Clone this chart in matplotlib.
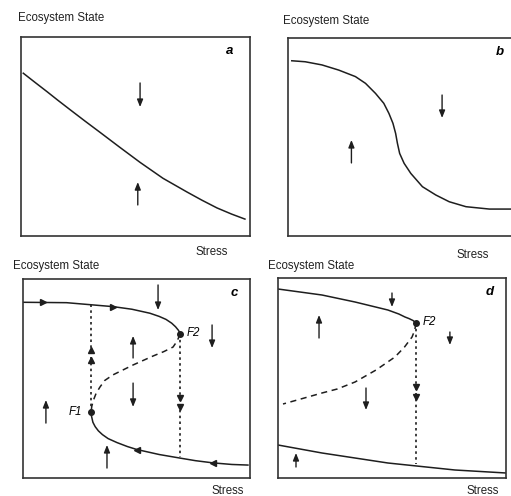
import matplotlib
matplotlib.use('Agg')
import matplotlib.pyplot as plt

plt.rcParams['font.family'] = ['Liberation Sans', 'DejaVu Sans']

# ---- panel a: single smooth equilibrium
a_x = [0.01, 0.06, 0.114, 0.16, 0.214, 0.28, 0.345, 0.43, 0.52, 0.62, 0.725, 0.79, 0.856, 0.92, 0.978]
a_y = [0.818, 0.773, 0.725, 0.683, 0.635, 0.577, 0.521, 0.447, 0.37, 0.29, 0.221, 0.18, 0.141, 0.11, 0.085]
a_arrows = [(0.52, 0.769, 0.648), (0.51, 0.156, 0.271)]   # x, from y, to y

# ---- panel b: strongly nonlinear single equilibrium
b_x = [0.017, 0.077, 0.152, 0.227, 0.302, 0.347, 0.392, 0.429, 0.452, 0.470, 0.482,
       0.490, 0.500, 0.520, 0.550, 0.602, 0.662, 0.722, 0.797, 0.902, 1.0]
b_y = [0.885, 0.880, 0.864, 0.838, 0.805, 0.771, 0.720, 0.670, 0.619, 0.569, 0.518,
       0.468, 0.417, 0.367, 0.316, 0.249, 0.207, 0.173, 0.148, 0.136, 0.136]
b_arrows = [(0.69, 0.712, 0.596), (0.284, 0.369, 0.485)]

# ---- panel c: fold bifurcation with hysteresis
c_up_x = [0.0, 0.192, 0.398, 0.48, 0.559, 0.60, 0.63, 0.655, 0.672, 0.685, 0.692]
c_up_y = [0.883, 0.881, 0.861, 0.848, 0.828, 0.812, 0.797, 0.778, 0.76, 0.742, 0.727]
c_mid_x = [0.692, 0.68, 0.661, 0.62, 0.573, 0.485, 0.396, 0.36, 0.339, 0.322, 0.31, 0.303, 0.30]
c_mid_y = [0.724, 0.69, 0.658, 0.635, 0.613, 0.568, 0.518, 0.49, 0.457, 0.425, 0.39, 0.36, 0.332]
c_low_x = [0.30, 0.302, 0.308, 0.318, 0.332, 0.35, 0.375, 0.414, 0.46, 0.502, 0.60,
           0.692, 0.76, 0.837, 0.92, 0.991]
c_low_y = [0.332, 0.31, 0.28, 0.258, 0.237, 0.218, 0.198, 0.178, 0.158, 0.143, 0.118,
           0.10, 0.087, 0.076, 0.068, 0.065]
c_F1 = (0.30, 0.332)
c_F2 = (0.692, 0.724)
c_jump_up = (0.30, 0.332, 0.87)
c_jump_down = (0.692, 0.724, 0.105)
c_heads_right = ([0.088, 0.396], [0.883, 0.861])
c_heads_left = ([0.502, 0.837], [0.143, 0.076])
c_heads_up = ([0.30, 0.30], [0.643, 0.593])
c_heads_down = ([0.692, 0.692], [0.40, 0.357])
c_arrows = [(0.595, 0.97, 0.844), (0.833, 0.769, 0.653), (0.485, 0.603, 0.714),
            (0.485, 0.477, 0.357), (0.101, 0.276, 0.392), (0.37, 0.05, 0.166)]

# ---- panel d: irreversible shift
d_up_x = [0.0, 0.193, 0.338, 0.482, 0.53, 0.557, 0.575, 0.593, 0.605]
d_up_y = [0.945, 0.915, 0.88, 0.84, 0.82, 0.805, 0.797, 0.787, 0.775]
d_mid_x = [0.605, 0.60, 0.588, 0.555, 0.513, 0.43, 0.338, 0.26, 0.193, 0.10, 0.022]
d_mid_y = [0.775, 0.74, 0.705, 0.655, 0.605, 0.54, 0.48, 0.445, 0.425, 0.395, 0.37]
d_low_x = [0.0, 0.193, 0.482, 0.776, 1.0]
d_low_y = [0.165, 0.125, 0.075, 0.04, 0.025]
d_F2 = (0.605, 0.775)
d_jump_down = (0.605, 0.775, 0.068)
d_heads_down = ([0.605, 0.605], [0.455, 0.405])
d_arrows = [(0.5, 0.925, 0.855), (0.18, 0.70, 0.815), (0.754, 0.73, 0.665),
            (0.386, 0.45, 0.34), (0.079, 0.055, 0.125)]

ink = '#1e1e1e'
fs = 8.3
lw = 1.1

fig = plt.figure(figsize=(5.11, 4.96), dpi=100)
ax_a = fig.add_axes([0.0411, 0.5242, 0.4481, 0.4012])
ax_b = fig.add_axes([0.5636, 0.5242, 0.4370, 0.3992])
ax_c = fig.add_axes([0.045, 0.0363, 0.4442, 0.4012])
ax_d = fig.add_axes([0.544, 0.0363, 0.4462, 0.4032])

for ax in [ax_a, ax_b, ax_c, ax_d]:
    ax.set_xlim(0, 1)
    ax.set_ylim(0, 1)
    ax.set_xticks([])
    ax.set_yticks([])
    for s in ax.spines.values():
        s.set_color('#333333')
        s.set_linewidth(1.2)
ax_b.spines['right'].set_visible(False)


def arrows(ax, lst):
    for x, y0, y1 in lst:
        ax.annotate('', xy=(x, y1), xytext=(x, y0),
                    arrowprops=dict(arrowstyle='-|>,head_length=0.55,head_width=0.22',
                                    color=ink, lw=1.0, shrinkA=0, shrinkB=0,
                                    mutation_scale=8))


ax_a.plot(a_x, a_y, color=ink, lw=lw)
arrows(ax_a, a_arrows)

ax_b.plot(b_x, b_y, color=ink, lw=lw)
arrows(ax_b, b_arrows)

ax_c.plot(c_up_x, c_up_y, color=ink, lw=lw)
ax_c.plot(c_low_x, c_low_y, color=ink, lw=lw)
ax_c.plot(c_mid_x, c_mid_y, color=ink, lw=lw, ls=(0, (4, 3)))
ax_c.plot([c_jump_up[0]] * 2, c_jump_up[1:], color=ink, lw=1.2, ls=(0, (1.5, 2)))
ax_c.plot([c_jump_down[0]] * 2, c_jump_down[1:], color=ink, lw=1.2, ls=(0, (1.5, 2)))
ax_c.plot(*c_heads_right, ls='none', marker='>', ms=4, color=ink)
ax_c.plot(*c_heads_left, ls='none', marker='<', ms=4, color=ink)
ax_c.plot(*c_heads_up, ls='none', marker='^', ms=4, color=ink)
ax_c.plot(*c_heads_down, ls='none', marker='v', ms=4, color=ink)
ax_c.plot(*c_F1, marker='o', ms=4, color=ink)
ax_c.plot(*c_F2, marker='o', ms=4, color=ink)
ax_c.text(c_F1[0] - 0.04, c_F1[1], 'F1', style='italic', fontsize=fs, ha='right', va='center')
ax_c.text(c_F2[0] + 0.03, c_F2[1] + 0.005, 'F2', style='italic', fontsize=fs, ha='left', va='center')
arrows(ax_c, c_arrows)

ax_d.plot(d_up_x, d_up_y, color=ink, lw=lw)
ax_d.plot(d_low_x, d_low_y, color=ink, lw=lw)
ax_d.plot(d_mid_x, d_mid_y, color=ink, lw=lw, ls=(0, (4, 3)))
ax_d.plot([d_jump_down[0]] * 2, d_jump_down[1:], color=ink, lw=1.2, ls=(0, (1.5, 2)))
ax_d.plot(*d_heads_down, ls='none', marker='v', ms=4, color=ink)
ax_d.plot(*d_F2, marker='o', ms=4, color=ink)
ax_d.text(d_F2[0] + 0.03, d_F2[1] + 0.005, 'F2', style='italic', fontsize=fs, ha='left', va='center')
arrows(ax_d, d_arrows)

for ax, lab, xpos in [(ax_a, 'a', 0.91), (ax_b, 'b', 0.95), (ax_c, 'c', 0.93), (ax_d, 'd', 0.93)]:
    ax.text(xpos, 0.93, lab, fontsize=9.5, fontweight='bold', style='italic',
            ha='center', va='center', transform=ax.transAxes)

for x, y in [(0.0352, 0.9637), (0.5538, 0.9577), (0.0254, 0.4637), (0.5245, 0.4637)]:
    fig.text(x, y, 'Ecosystem State', fontsize=fs, ha='left', va='center', color='#222222')
for x, y in [(0.4149, 0.4919), (0.9256, 0.4859), (0.4462, 0.0101), (0.9452, 0.0101)]:
    fig.text(x, y, 'Stress', fontsize=fs, ha='center', va='center', color='#222222')

fig.savefig('out.png', dpi=100)
